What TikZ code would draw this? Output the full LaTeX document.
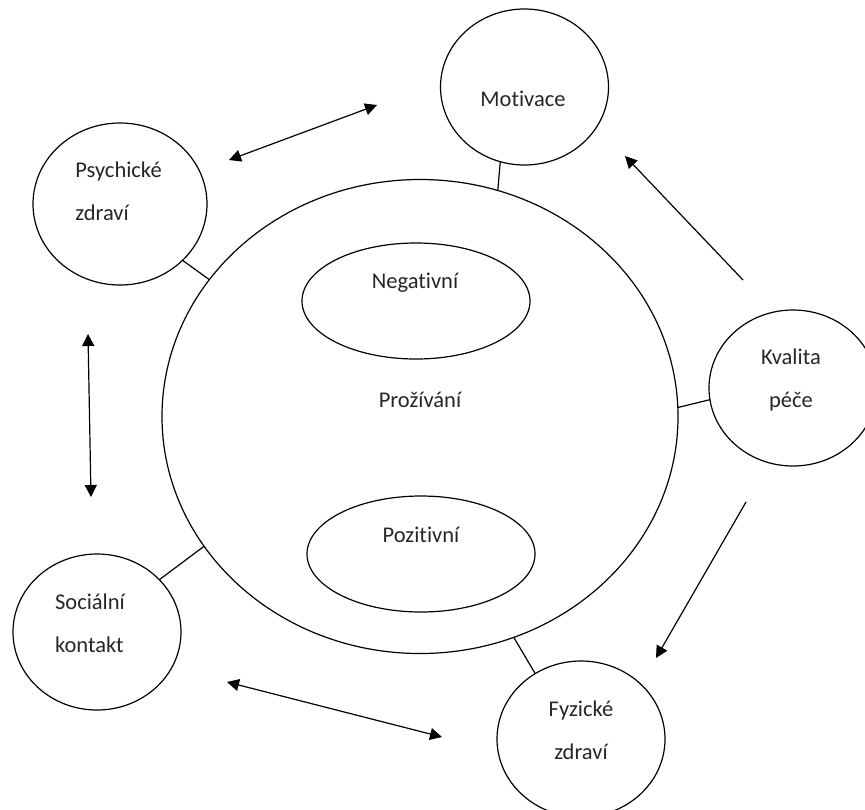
\documentclass[tikz,border=0pt]{standalone}
\usepackage{fontspec}
\setmainfont{Carlito}[Ligatures=NoCommon]
\usetikzlibrary{shapes.geometric,arrows.meta}

\begin{document}
\begin{tikzpicture}[x=0.5pt,y=-0.5pt,
    bubble/.style={draw,ellipse,inner sep=0pt,outer sep=0pt,
      minimum width=84pt,minimum height=78pt,line width=0.6pt},
    word/.style={inner sep=0pt,text=black!85,font=\fontsize{11.25}{21.5}\selectfont},
    link/.style={line width=0.6pt},
    both/.style={line width=0.6pt,
      {Triangle[length=6pt,width=6pt]}-{Triangle[length=6pt,width=6pt]}},
    one/.style={line width=0.6pt,-{Triangle[length=6pt,width=6pt]}}]
    \clip (0,0) rectangle (865,809);
    % big circle with the two ovals inside
    \node[bubble,minimum width=258pt,minimum height=237pt] (proz) at (420,416.5) {};
    \node[bubble,minimum width=114pt,minimum height=58pt] (neg) at (416,301) {};
    \node[bubble,minimum width=114pt,minimum height=58pt] (poz) at (421,554) {};
    % outer circles
    \node[bubble] (motiv) at (524.5,87) {};
    \node[bubble,minimum width=87pt,minimum height=81pt] (psych) at (120,204) {};
    \node[bubble] (kval) at (793,388) {};
    \node[bubble] (soc) at (97,632) {};
    \node[bubble] (fyz) at (581,739) {};
    % texts
    \node[word] (tproz) at (420,400) {Prožívání};
    \node[word] (tneg) at (415,283) {Negativní};
    \node[word] (tpoz) at (421,535) {Pozitivní};
    \node[word] (tmotiv) at (523,99) {Motivace};
    \node[word,align=left,anchor=west] (tpsych) at (75,191) {Psychické\\zdraví};
    \node[word,align=center] (tkval) at (791,380) {Kvalita\\péče};
    \node[word,align=left] (tsoc) at (90,623) {Sociální\\kontakt};
    \node[word,align=center] (tfyz) at (581,730) {Fyzické\\zdraví};
    % short links to the big circle
    \draw[link] (motiv.252.1) -- (proz.71.7);
    \draw[link] (psych.318.5) -- (proz.147.6);
    \draw[link] (kval.188.9) -- (proz.2.8);
    \draw[link] (soc.40.5) -- (proz.211.5);
    \draw[link] (fyz.125.9) -- (proz.293.7);
    % free arrows
    \coordinate (pm1) at (229,160);
    \coordinate (pm2) at (377,105);
    \coordinate (ps1) at (88,334);
    \coordinate (ps2) at (91,497);
    \coordinate (sf1) at (227,682);
    \coordinate (sf2) at (442,737);
    \coordinate (km1) at (743,280);
    \coordinate (km2) at (625,156);
    \coordinate (kf1) at (746,502);
    \coordinate (kf2) at (656,658);
    \draw[both] (pm1) -- (pm2);
    \draw[both] (ps1) -- (ps2);
    \draw[both] (sf1) -- (sf2);
    \draw[one] (km1) -- (km2);
    \draw[one] (kf1) -- (kf2);
\end{tikzpicture}
\end{document}
